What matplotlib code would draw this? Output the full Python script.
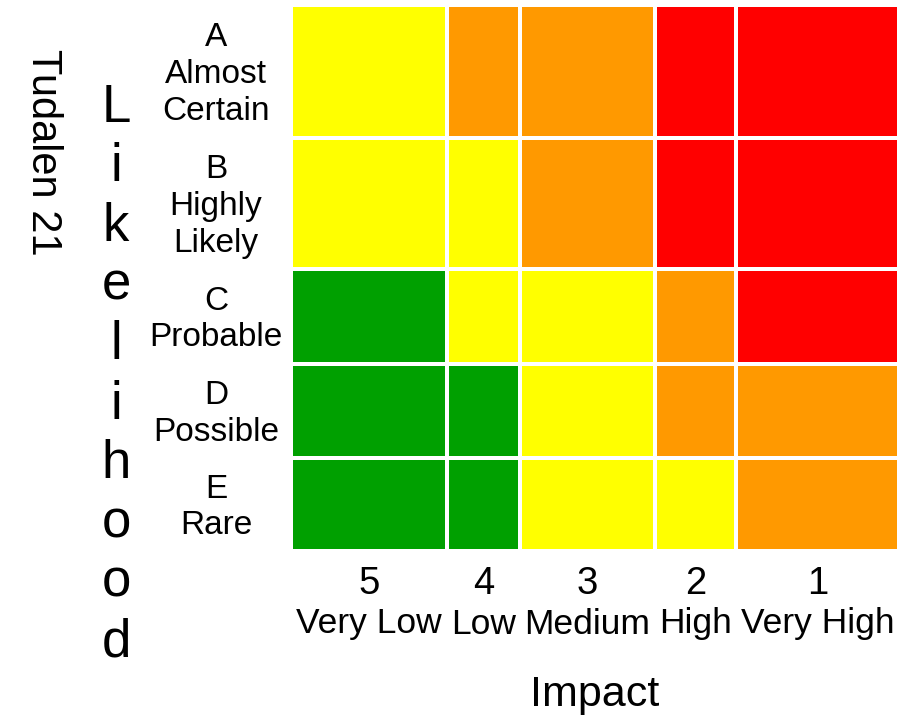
import matplotlib
matplotlib.use("Agg")
import matplotlib.pyplot as plt
from matplotlib.transforms import blended_transform_factory

plt.rcParams['font.family'] = ['Liberation Sans', 'DejaVu Sans']

# ---- data ----
impact_numbers = ["5", "4", "3", "2", "1"]
impact_labels = ["Very Low", "Low", "Medium", "High", "Very High"]
likelihood_labels = ["A\nAlmost\nCertain", "B\nHighly\nLikely", "C\nProbable",
                     "D\nPossible", "E\nRare"]
# risk level per cell (rows A..E, columns 5..1)
risk = [
    ["Y", "O", "O", "R", "R"],
    ["Y", "Y", "O", "R", "R"],
    ["G", "Y", "Y", "O", "R"],
    ["G", "G", "Y", "O", "O"],
    ["G", "G", "Y", "Y", "O"],
]
page_label = "Tudalen 21"
x_title = "Impact"
y_title = "Likelihood"

# ---- style / layout ----
colors = {"G": "#00A000", "Y": "#FFFF00", "O": "#FF9900", "R": "#FF0000"}
col_widths = [156, 73, 135, 81, 163]
row_heights = [132.5, 131.5, 95, 94, 93]

W, H = 900, 720
fig = plt.figure(figsize=(W / 100, H / 100), dpi=100)
left, right, top, bottom = 291, 899, 5, 551
ax = fig.add_axes([left / W, 1 - bottom / H, (right - left) / W, (bottom - top) / H])

x_edges = [sum(col_widths[:i]) for i in range(len(col_widths) + 1)]
y_edges = [sum(row_heights[:i]) for i in range(len(row_heights) + 1)]

for r, row in enumerate(risk):
    ax.bar(x_edges[:-1], [row_heights[r]] * len(row), width=col_widths,
           bottom=y_edges[r], align='edge',
           color=[colors[c] for c in row], edgecolor='white', linewidth=2.88)

ax.set_xlim(0, x_edges[-1])
ax.set_ylim(y_edges[-1], 0)
ax.axis('off')

x_centers = [(x_edges[i] + x_edges[i + 1]) / 2 for i in range(len(col_widths))]
y_centers = [(y_edges[i] + y_edges[i + 1]) / 2 for i in range(len(row_heights))]

tx = blended_transform_factory(ax.transData, fig.transFigure)
ty = blended_transform_factory(fig.transFigure, ax.transData)

for xc, num, lab in zip(x_centers, impact_numbers, impact_labels):
    ax.text(xc, 1 - 584 / H, num, transform=tx, ha='center', va='center',
            fontsize=27.5, clip_on=False)
    ax.text(xc, 1 - 624 / H, lab, transform=tx, ha='center', va='center',
            fontsize=25.5, clip_on=False)

for yc, lab in zip(y_centers, likelihood_labels):
    ax.text(216 / W, yc + 3, lab, transform=ty, ha='center', va='center',
            fontsize=24, linespacing=1.25, clip_on=False)

fig.text(595 / W, 1 - 695 / H, x_title, ha='center', va='center', fontsize=31)
fig.text(116 / W, 1 - 375 / H, "\n".join(y_title), ha='center', va='center',
         fontsize=38, linespacing=1.24)
fig.text(43 / W, 1 - 152 / H, page_label, ha='center', va='center',
         fontsize=30, rotation=270)

fig.savefig("out.png", dpi=100)
